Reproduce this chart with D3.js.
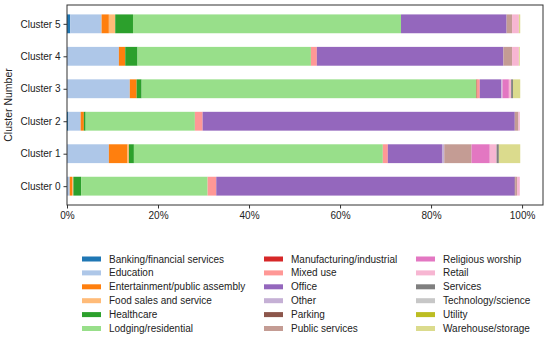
<!DOCTYPE html>
<html>
<head>
<meta charset="utf-8">
<script src="https://cdn.jsdelivr.net/npm/d3@7"></script>
<style>
	body { margin: 0; background: #fff; }
	svg text { font-family: "Liberation Sans", Arial, sans-serif; fill: #222; }
</style>
</head>
<body>
<div id="chart"></div>
<script>
const clusters = ["Cluster 0", "Cluster 1", "Cluster 2", "Cluster 3", "Cluster 4", "Cluster 5"];
const categories = [
	"Banking/financial services", "Education", "Entertainment/public assembly", "Food sales and service",
	"Healthcare", "Lodging/residential", "Manufacturing/industrial", "Mixed use", "Office", "Other",
	"Parking", "Public services", "Religious worship", "Retail", "Services", "Technology/science",
	"Utility", "Warehouse/storage"
];
const colors = [
	"#1f77b4", "#aec7e8", "#ff7f0e", "#ffbb78", "#2ca02c", "#98df8a", "#d62728", "#ff9896", "#9467bd",
	"#c5b0d5", "#8c564b", "#c49c94", "#e377c2", "#f7b6d2", "#7f7f7f", "#c7c7c7", "#bcbd22", "#dbdb8d"
];
// percent share per category, one row per cluster (same order as categories)
const cluster0 = [0.0, 0.6, 0.5, 0.3, 1.7, 27.8, 0.0, 1.9, 65.6, 0.0, 0.1, 0.4, 0.0, 0.6, 0.0, 0.0, 0.0, 0.0];
const cluster1 = [0.0, 9.2, 4.1, 0.3, 1.1, 54.7, 0.0, 1.1, 11.9, 0.5, 0.0, 6.0, 4.0, 1.5, 0.5, 0.0, 0.0, 4.7];
const cluster2 = [0.3, 2.7, 0.7, 0.0, 0.4, 24.0, 0.0, 1.7, 68.6, 0.0, 0.0, 0.8, 0.0, 0.3, 0.0, 0.0, 0.0, 0.0];
const cluster3 = [0.0, 13.8, 1.5, 0.0, 1.1, 73.6, 0.2, 0.5, 4.7, 0.3, 0.0, 0.0, 1.4, 0.5, 0.4, 0.0, 0.0, 1.6];
const cluster4 = [0.0, 11.4, 1.4, 0.0, 2.7, 38.1, 0.0, 1.3, 41.0, 0.0, 0.0, 1.9, 0.0, 1.5, 0.0, 0.0, 0.0, 0.2];
const cluster5 = [0.7, 6.9, 1.6, 1.4, 3.9, 58.9, 0.0, 0.0, 23.2, 0.0, 0.0, 1.2, 0.0, 1.5, 0.0, 0.0, 0.0, 0.3];
const xTicks = [0, 20, 40, 60, 80, 100];

const rows = [cluster0, cluster1, cluster2, cluster3, cluster4, cluster5].map((vals, i) => {
	const r = { cluster: clusters[i] };
	categories.forEach((c, j) => r[c] = vals[j]);
	return r;
});

const width = 550, height = 338;
const margin = { left: 67, right: 7, top: 5, bottom: 133 };
const iw = width - margin.left - margin.right, ih = height - margin.top - margin.bottom;

const svg = d3.select("#chart").append("svg").attr("width", width).attr("height", height);
const g = svg.append("g").attr("transform", `translate(${margin.left},${margin.top})`);

const x = d3.scaleLinear().domain([0, 104.6]).range([0, iw]);
const y = d3.scaleLinear().domain([-0.58, 5.58]).range([ih, 0]);
const barH = y(0) - y(0.58);
const color = d3.scaleOrdinal().domain(categories).range(colors);

const series = d3.stack().keys(categories)(rows);

g.selectAll("g.series").data(series).join("g")
	.attr("class", "series")
	.attr("fill", d => color(d.key))
	.selectAll("rect").data(d => d).join("rect")
	.attr("x", d => x(d[0]))
	.attr("width", d => Math.max(0, x(d[1]) - x(d[0])))
	.attr("y", (d, i) => y(i) - barH / 2)
	.attr("height", barH);

// axes
const xAxis = g.append("g").attr("transform", `translate(0,${ih})`)
	.call(d3.axisBottom(x).tickValues(xTicks).tickFormat(d => d + "%").tickSize(3.5).tickPadding(3));
const yAxis = g.append("g")
	.call(d3.axisLeft(y).tickValues(d3.range(clusters.length)).tickFormat(i => clusters[i]).tickSize(3.5).tickPadding(3));
[xAxis, yAxis].forEach(a => {
	a.select(".domain").remove();
	a.selectAll("line").attr("stroke", "#333");
	a.selectAll("text").style("font-size", "10px").attr("fill", "#222");
});

g.append("rect").attr("width", iw).attr("height", ih)
	.attr("fill", "none").attr("stroke", "#333").attr("stroke-width", 1);

svg.append("text")
	.attr("transform", `translate(12,${margin.top + ih / 2}) rotate(-90)`)
	.attr("text-anchor", "middle")
	.style("font-size", "10.5px")
	.text("Cluster Number");

// legend, 3 columns x 6 rows
const colX = [82, 264, 416];
const legend = svg.append("g");
categories.forEach((c, i) => {
	const col = Math.floor(i / 6), row = i % 6;
	const lx = colX[col], ly = 259 + row * 13.9;
	legend.append("rect").attr("x", lx).attr("y", ly - 2.5).attr("width", 19).attr("height", 5).attr("fill", color(c));
	legend.append("text").attr("x", lx + 27).attr("y", ly).attr("dy", "0.35em")
		.style("font-size", "10px").text(c);
});
</script>
</body>
</html>
